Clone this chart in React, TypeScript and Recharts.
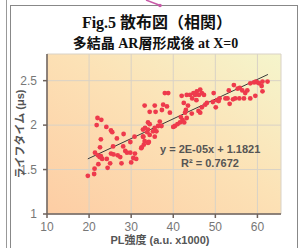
import React from 'react';
import { ScatterChart, Scatter, XAxis, YAxis, CartesianGrid, ReferenceLine } from 'recharts';

// PL intensity (a.u. x1000)
const plValues = [
  19.7, 21.2, 21.3, 22.2, 24.4, 25.0, 27.7, 30.0,
  21.4, 22.1, 22.5, 23.1, 22.8, 24.2, 25.2, 25.8, 26.8, 27.4, 28.6, 29.0, 29.8, 30.9, 30.5, 31.2,
  22.6, 25.7, 28.1, 32.5, 34.2, 29.8, 26.6, 22.8, 30.8, 32.9, 28.2, 25.2, 25.5, 24.1, 21.8, 22.0, 22.9, 33.3, 33.8, 33.2, 34.4, 32.4,
  35.6, 37.6, 38.5, 35.8, 37.3, 39.2, 38.0, 38.8, 34.0, 34.4, 36.8, 36.4, 36.0, 37.2, 40.4, 41.0, 40.0, 41.6, 42.2, 42.6, 41.8, 43.2, 42.8, 44.4, 46.0, 46.4, 46.8, 47.6, 48.0,
  42.0, 43.2, 44.0, 44.8, 45.6, 46.4, 46.8, 47.3, 46.1, 45.2, 44.5, 45.5, 42.5, 43.5, 43.0,
  32.8, 34.0, 34.4, 32.8, 33.2, 34.0, 33.0, 35.6, 35.2, 35.6,
  49.6, 49.4, 50.4, 51.0, 50.8, 50.1, 52.4, 52.9, 53.4, 53.2, 54.4, 55.3, 55.8, 56.4, 57.1, 54.2, 54.7, 55.7, 56.8, 58.3, 59.5,
  58.3, 59.2, 59.6, 60.0, 60.4, 61.2, 62.4, 61.0, 61.2, 57.6,
];
// Lifetime (μs)
const lifetimeValues = [
  1.43, 1.45, 1.51, 1.56, 1.52, 1.57, 1.57, 1.58,
  1.69, 1.66, 1.64, 1.62, 1.65, 1.62, 1.68, 1.67, 1.66, 1.64, 1.71, 1.69, 1.69, 1.68, 1.63, 1.62,
  1.75, 1.76, 1.76, 1.75, 1.81, 1.81, 1.85, 1.84, 1.87, 1.87, 1.90, 1.94, 1.92, 1.98, 2.00, 2.08, 2.06, 1.97, 1.92, 2.22, 2.15, 1.74,
  2.22, 2.23, 2.21, 2.15, 2.17, 2.14, 2.36, 2.36, 2.03, 2.01, 2.04, 1.99, 1.93, 1.99, 1.99, 2.01, 1.98, 2.03, 2.06, 2.03, 2.09, 2.08, 2.14, 2.13, 2.16, 2.14, 2.20, 2.23, 2.25,
  2.33, 2.34, 2.34, 2.36, 2.38, 2.40, 2.36, 2.34, 2.34, 2.34, 2.30, 2.28, 2.25, 2.22, 2.17,
  1.95, 1.95, 1.89, 1.87, 1.82, 1.80, 1.78, 1.97, 1.93, 1.87,
  2.36, 2.26, 2.28, 2.30, 2.27, 2.20, 2.30, 2.30, 2.24, 2.39, 2.45, 2.41, 2.42, 2.39, 2.36, 2.29, 2.30, 2.30, 2.30, 2.30, 2.33,
  2.47, 2.48, 2.49, 2.48, 2.47, 2.49, 2.49, 2.44, 2.38, 2.39,
];

const xTicks = [10, 20, 30, 40, 50, 60];
const yTicks = [1, 1.5, 2, 2.5];
const xDomain = [10, 65.6];
const yDomain = [1, 2.8];

// Trend line endpoints
const trendX = [19.7, 62.5];
const trendY = [1.62, 2.57];

const points = plValues.map((x, i) => ({ x, y: lifetimeValues[i] }));

const Dot = (props: any) => {
  const { cx, cy } = props;
  if (cx == null || cy == null) return null;
  return <circle cx={cx} cy={cy} r={2.4} fill="#ee3a4c" />;
};

const axisColor = '#6e625c';
const tickStyle = { fill: '#777', fontSize: 12, fontFamily: '"Liberation Sans", Arial, sans-serif' };

export default function App() {
  return (
    <div style={{ position: 'absolute', left: 0, top: 0, width: 302, height: 248, background: '#fff', overflow: 'hidden' }}>
      <svg width={0} height={0} style={{ position: 'absolute' }}>
        <defs>
          <linearGradient id="plotBg" x1="0" y1="1" x2="1" y2="0">
            <stop offset="0%" stopColor="#fdcda4" />
            <stop offset="55%" stopColor="#fce2b6" />
            <stop offset="100%" stopColor="#f5f5cc" />
          </linearGradient>
        </defs>
      </svg>
      {/* frame */}
      <div style={{ position: 'absolute', left: 6, top: 0, width: 1, height: 248, background: '#999' }} />
      <div style={{ position: 'absolute', left: 10, top: 5, width: 288, height: 260, border: '1.5px solid #888', boxSizing: 'border-box' }} />
      <div style={{ position: 'absolute', left: 0, top: 0, width: 302, height: 248 }}>
        <ScatterChart width={302} height={248} margin={{ top: 54, right: 21, bottom: 0, left: 0 }}>
          <CartesianGrid
            fill="url(#plotBg)"
            fillOpacity={1}
            stroke="#d9d2c6"
            strokeWidth={1}
            verticalPoints={undefined}
          />
          <XAxis
            type="number"
            dataKey="x"
            domain={xDomain}
            ticks={xTicks}
            interval={0}
            height={34}
            tickSize={4}
            tickMargin={4}
            tick={tickStyle}
            stroke={axisColor}
            strokeWidth={1.5}
            allowDataOverflow
          />
          <YAxis
            type="number"
            dataKey="y"
            domain={yDomain}
            ticks={yTicks}
            interval={0}
            width={47}
            tickSize={4}
            tickMargin={6}
            tick={tickStyle}
            stroke={axisColor}
            strokeWidth={1.5}
            allowDataOverflow
          />
          <Scatter data={points} shape={<Dot />} isAnimationActive={false} />
          <ReferenceLine
            segment={[{ x: trendX[0], y: trendY[0] }, { x: trendX[1], y: trendY[1] }]}
            stroke="#3a3a3a"
            strokeWidth={1}
            ifOverflow="visible"
          />
        </ScatterChart>
      </div>
      {/* titles */}
      <div style={{ position: 'absolute', left: 0, width: 314, top: 14, textAlign: 'center', fontFamily: '"Liberation Serif", "Noto Sans CJK JP", serif', fontWeight: 'bold', fontSize: 16, lineHeight: '18px', color: '#111', whiteSpace: 'nowrap' }}>
        Fig.5 散布図（相関）
      </div>
      <div style={{ position: 'absolute', left: 0, width: 311, top: 36, textAlign: 'center', fontFamily: '"Liberation Serif", "Noto Sans CJK JP", serif', fontWeight: 'bold', fontSize: 14, lineHeight: '16px', color: '#111', whiteSpace: 'nowrap' }}>
        多結晶 AR層形成後 at X=0
      </div>
      {/* equation */}
      <div style={{ position: 'absolute', left: 160, width: 100, top: 142, textAlign: 'center', fontFamily: '"Liberation Sans", Arial, sans-serif', fontWeight: 'bold', fontSize: 11, lineHeight: '14px', color: '#555', whiteSpace: 'nowrap' }}>
        y = 2E-05x + 1.1821
        <br />
        R² = 0.7672
      </div>
      {/* axis titles */}
      <div style={{ position: 'absolute', left: 80, width: 160, top: 233, textAlign: 'center', fontFamily: '"Liberation Sans", "Noto Sans CJK JP", sans-serif', fontWeight: 'bold', fontSize: 11, lineHeight: '14px', color: '#555', whiteSpace: 'nowrap' }}>
        PL強度 (a.u. x1000)
      </div>
      <div style={{ position: 'absolute', left: 20 - 60, top: 134 - 7, width: 120, height: 14, transform: 'rotate(-90deg)', textAlign: 'center', fontFamily: '"Liberation Sans", "Noto Sans CJK JP", sans-serif', fontWeight: 'bold', fontSize: 11, lineHeight: '14px', color: '#555', whiteSpace: 'nowrap' }}>
        ライフタイム (μs)
      </div>
      {/* pointer at top */}
      <svg width={302} height={12} style={{ position: 'absolute', left: 0, top: 0 }}>
        <line x1={146} y1={0} x2={159} y2={5} stroke="#c85aa8" strokeWidth={1.5} />
        <circle cx={160} cy={5.5} r={1.8} fill="#c85aa8" />
      </svg>
    </div>
  );
}
